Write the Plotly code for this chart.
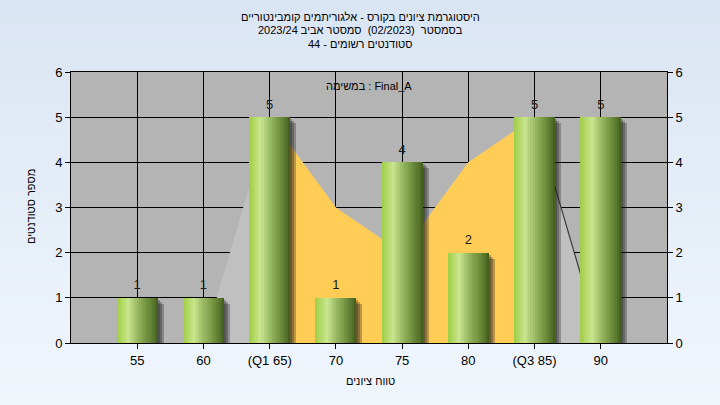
import base64
import struct
import zlib

import plotly.graph_objects as go

# ---------------- data ----------------
categories = ["55", "60", "(Q1 65)", "70", "75", "80", "(Q3 85)", "90"]
counts = [1, 1, 5, 1, 4, 2, 5, 5]
area_values = [0, 0, 5, 3, 2, 4, 5, 0]
iqr_categories = ["(Q1 65)", "70", "75", "80", "(Q3 85)"]
iqr_values = [5, 3, 2, 4, 5]
tail_categories = ["(Q3 85)", "90"]
tail_values = [5, 0]
y_ticks = [0, 1, 2, 3, 4, 5, 6]

title_lines = [
    "היסטוגרמת ציונים בקורס - אלגוריתמים קומבינטוריים",
    "בסמסטר  (02/2023)  סמסטר אביב 2023/24",
    "סטודנטים רשומים - 44",
]
subtitle = "במשימה : Final_A"
x_title = "טווח ציונים"
y_title = "מספר סטודנטים"

FONT = "Liberation Sans, Arial, sans-serif"

# ---------------- page gradient (background image) ----------------
def gradient_png(h, top, bot):
    raw = b""
    for i in range(h):
        t = i / (h - 1)
        c = bytes(round(top[k] + (bot[k] - top[k]) * t) for k in range(3))
        raw += b"\x00" + c + c
    def chunk(tag, data):
        return (struct.pack(">I", len(data)) + tag + data
                + struct.pack(">I", zlib.crc32(tag + data) & 0xFFFFFFFF))
    png = (b"\x89PNG\r\n\x1a\n"
           + chunk(b"IHDR", struct.pack(">IIBBBBB", 2, h, 8, 2, 0, 0, 0))
           + chunk(b"IDAT", zlib.compress(raw))
           + chunk(b"IEND", b""))
    return "data:image/png;base64," + base64.b64encode(png).decode()

W_PX, H_PX = 720, 405
L, R, T, B = 71, 53, 72, 62
PW, PH = W_PX - L - R, H_PX - T - B

bg_src = gradient_png(405, (218, 229, 243), (240, 246, 252))

# ---------------- figure ----------------
fig = go.Figure()

# background areas (main subplot, under bars)
fig.add_trace(go.Scatter(
    x=categories, y=area_values, mode="lines", fill="tozeroy",
    line=dict(width=0, color="#c0c0c0"), fillcolor="#c0c0c0",
    hoverinfo="skip", showlegend=False))
fig.add_trace(go.Scatter(
    x=iqr_categories, y=iqr_values, mode="lines", fill="tozeroy",
    line=dict(width=0, color="#ffcc55"), fillcolor="#ffcc55",
    hoverinfo="skip", showlegend=False))
fig.add_trace(go.Scatter(
    x=tail_categories, y=tail_values, mode="lines",
    line=dict(width=1.2, color="#3a3a3a"),
    hoverinfo="skip", showlegend=False))

# bars on overlay subplot (drawn above areas)
BAR_W = 0.62
UNIT_PX = PW / 9.0
UNIT_Y = PH / 6.0

# shadows
for k, dpx in enumerate([2, 4, 6]):
    fig.add_trace(go.Bar(
        x=categories, y=[c - dpx / UNIT_Y for c in counts],
        width=BAR_W, offset=-BAR_W / 2 + dpx / UNIT_PX,
        marker=dict(color="rgba(30,30,30,0.3)", line=dict(width=0)),
        xaxis="x2", yaxis="y2", hoverinfo="skip", showlegend=False))

stops = [
    (0.0, (158, 206, 68)),
    (0.28, (202, 229, 142)),
    (0.5, (155, 186, 100)),
    (0.75, (112, 144, 62)),
    (0.96, (76, 104, 36)),
    (1.0, (58, 80, 28)),
]

def grad(t):
    for (t0, c0), (t1, c1) in zip(stops[:-1], stops[1:]):
        if t0 <= t <= t1:
            f = (t - t0) / (t1 - t0)
            return "rgb(%d,%d,%d)" % tuple(round(c0[i] + (c1[i] - c0[i]) * f) for i in range(3))
    return "rgb(%d,%d,%d)" % stops[-1][1]

N = 20
sw = BAR_W / N
for i in range(N):
    t = (i + 0.5) / N
    w = sw * 1.6 if i < N - 1 else sw
    fig.add_trace(go.Bar(
        x=categories, y=counts, width=w, offset=-BAR_W / 2 + i * sw,
        marker=dict(color=grad(t), line=dict(width=0)),
        xaxis="x2", yaxis="y2",
        hovertemplate="%{x}: %{y}<extra></extra>" if i == 0 else None,
        hoverinfo=None if i == 0 else "skip",
        showlegend=False))

# count labels (invisible marker pushes the text up a little)
fig.add_trace(go.Scatter(
    x=categories, y=counts, mode="markers+text", text=[str(c) for c in counts],
    textposition="top center",
    marker=dict(size=7, opacity=0),
    textfont=dict(family=FONT, size=13, color="#1a1a1a"),
    xaxis="x2", yaxis="y2", hoverinfo="skip", showlegend=False, cliponaxis=False))

axis_font = dict(family=FONT, size=13, color="#000000")

def px_x(px):
    return (px - L) / PW

def px_y(py):
    return (H_PX - B - py) / PH

TXT = dict(family=FONT, size=11, color="#000000")
annotations = []
for line, yc in zip(title_lines, [17.5, 30.5, 44]):
    annotations.append(dict(
        text=line, x=px_x(360), y=px_y(yc), xref="paper", yref="paper",
        xanchor="center", yanchor="middle", showarrow=False, font=TXT))
annotations.append(dict(
    text=subtitle, x=px_x(369), y=px_y(86), xref="paper", yref="paper",
    xanchor="center", yanchor="middle", showarrow=False, font=TXT))
annotations.append(dict(
    text=x_title, x=px_x(370), y=px_y(381), xref="paper", yref="paper",
    xanchor="center", yanchor="middle", showarrow=False, font=TXT))
annotations.append(dict(
    text=y_title, x=px_x(31), y=px_y(207), xref="paper", yref="paper",
    xanchor="center", yanchor="middle", showarrow=False, textangle=-90,
    font=TXT))

fig.update_layout(
    width=W_PX, height=H_PX,
    margin=dict(l=L, r=R, t=T, b=B, pad=0),
    paper_bgcolor="#e6eef8",
    plot_bgcolor="rgba(0,0,0,0)",
    barmode="overlay",
    bargap=0,
    showlegend=False,
    font=dict(family=FONT, size=13, color="#000000"),
    images=[dict(
        source=bg_src, xref="paper", yref="paper",
        x=-L / PW, y=1 + T / PH, sizex=W_PX / PW, sizey=H_PX / PH,
        xanchor="left", yanchor="top", sizing="stretch", layer="below")],
    shapes=[dict(
        type="rect", xref="paper", yref="paper", x0=0, x1=1, y0=0, y1=1,
        fillcolor="#b4b4b4", line=dict(width=0), layer="below")],
    annotations=annotations,
    xaxis=dict(
        type="category", categoryorder="array", categoryarray=categories,
        range=[-1, 8], showgrid=True, gridcolor="#000000", gridwidth=1,
        showline=True, linecolor="#000000", linewidth=1, mirror=True,
        ticks="outside", ticklen=5, tickcolor="#000000",
        tickfont=axis_font, zeroline=False, fixedrange=True),
    yaxis=dict(
        range=[0, 6], tickvals=y_ticks, showgrid=True, gridcolor="#000000",
        gridwidth=1, showline=True, linecolor="#000000", linewidth=1,
        ticks="outside", ticklen=5, tickcolor="#000000",
        tickfont=axis_font, zeroline=False, fixedrange=True),
    xaxis2=dict(
        type="category", categoryorder="array", categoryarray=categories,
        range=[-1, 8], overlaying="x", anchor="y2", visible=False,
        fixedrange=True),
    yaxis2=dict(
        range=[0, 6], tickvals=y_ticks, overlaying="y", side="right",
        anchor="x2", showgrid=False, showline=True, linecolor="#000000",
        linewidth=1, ticks="outside", ticklen=5, tickcolor="#000000",
        tickfont=axis_font, zeroline=False, fixedrange=True),
)

fig.write_html(
    "out.html",
    config={"displayModeBar": False},
    post_script="document.body.style.margin='0px';document.body.style.overflow='hidden';",
)
